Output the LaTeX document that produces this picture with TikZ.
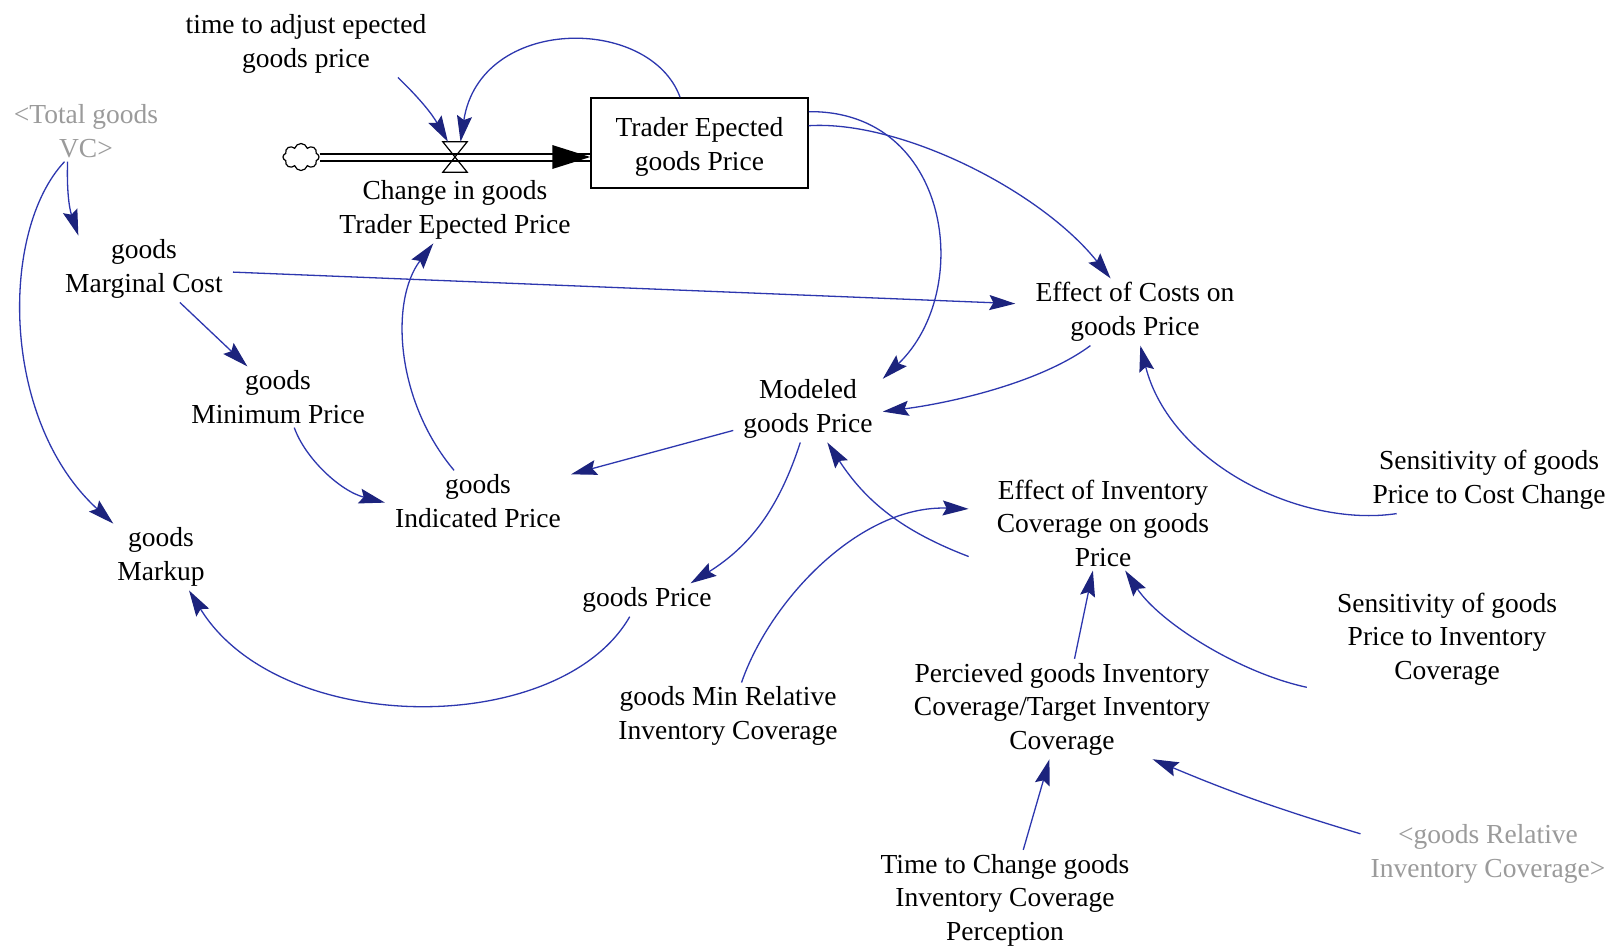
\documentclass[tikz,border=0pt]{standalone}
\usepackage{fontspec}
\setmainfont{Liberation Serif}
\usetikzlibrary{arrows.meta,shapes.symbols}
\definecolor{linkblue}{RGB}{45,55,175}
\definecolor{headnavy}{RGB}{28,35,125}
\definecolor{ghostgray}{RGB}{155,155,155}
\newcommand\lbfont{\fontsize{27.5}{33.5}\selectfont}
\begin{document}
\begin{tikzpicture}[x=1pt,y=-1pt,
  lab/.style={align=center, font=\lbfont, inner xsep=10pt, inner ysep=4pt},
  ghost/.style={lab, text=ghostgray},
  link/.style={draw=linkblue, line width=1.3pt, -{Stealth[length=26pt,width=15pt,inset=4pt,color=headnavy]}},
  stockbox/.style={draw, line width=1.5pt, minimum width=217pt, minimum height=90pt},
  pipe/.style={line width=2pt, double distance=5pt}]
\useasboundingbox (0,0) rectangle (1612,946);
\fill[white] (0,0) rectangle (1612,946);

% nodes
\node[lab] (tadj) at (306,44) {time to adjust epected\\goods price};
\node[ghost] (tvc) at (86,131) {<Total goods\\VC>};
\node[stockbox] (stock) at (699.5,143) {};
\node[lab, inner sep=0pt] (stocktxt) at (699.5,147) {Trader Epected\\goods Price};
\node[lab] (flow) at (455,210) {Change in goods\\Trader Epected Price};
\node[lab] (mc) at (144,269) {goods\\Marginal Cost};
\node[lab] (minp) at (278,397) {goods\\Minimum Price};
\node[lab] (indp) at (478,501) {goods\\Indicated Price};
\node[lab] (markup) at (161,557) {goods\\Markup};
\node[lab, inner xsep=20pt] (eoc) at (1135,312) {Effect of Costs on\\goods Price};
\node[lab] (mgp) at (808,409) {Modeled\\goods Price};
\node[lab] (gp) at (647,600) {goods Price};
\node[lab] (scc) at (1489,480) {Sensitivity of goods\\Price to Cost Change};
\node[lab, inner xsep=28pt] (eic) at (1103,523) {Effect of Inventory\\Coverage on goods\\Price};
\node[lab, inner xsep=30pt] (sic) at (1447,639) {Sensitivity of goods\\Price to Inventory\\Coverage};
\node[lab] (gmr) at (728,716) {goods Min Relative\\Inventory Coverage};
\node[lab] (pgi) at (1062,709) {Percieved goods Inventory\\Coverage/Target Inventory\\Coverage};
\node[ghost] (grc) at (1488,854) {<goods Relative\\Inventory Coverage>};
\node[lab] (ttc) at (1005,900) {Time to Change goods\\Inventory Coverage\\Perception};

% flow pipe
\node[cloud, draw, cloud puffs=8, aspect=1.4, minimum width=36pt, minimum height=27pt, inner sep=0pt, line width=1.2pt] (cloud) at (301,157) {};
\node[minimum width=24pt, minimum height=30pt, inner sep=0pt] (valve) at (455,157) {};
\draw[pipe] (cloud.east) -- (stock.west |- cloud.east);
\fill (stock.west |- cloud.east) -- ++(-38,-12) -- ++(0,24) -- cycle;
\draw[line width=1.2pt] (valve.north west) -- (valve.north east) -- (valve.south west) -- (valve.south east) -- cycle;

% links
\draw[link] (tadj.-20) to[bend left=8] (valve.115);
\draw[link] (stock.113) .. controls (650,15) and (480,15) .. (valve.70);
\draw[link] (stock.9) .. controls (900,120) and (1040,190) .. (eoc.126);
\draw[link] (stock.16) .. controls (950,110) and (975,290) .. (mgp.22);
\draw[link] (mc.-2) -- (eoc.176);
\draw[link] (mc.-43) -- (minp.135);
\draw[link] (tvc.-121) to[bend right=10] (mc.153);
\draw[link] (tvc.-125) .. controls (0,230) and (0,420) .. (markup.145);
\draw[link] (minp.-62) .. controls (305,458) and (340,491) .. (indp.181);
\draw[link] (indp.128) .. controls (395,400) and (390,300) .. (flow.-123);
\draw[link] (mgp.-164) -- (indp.16);
\draw[link] (eoc.-143) .. controls (1040,383) and (950,403) .. (mgp.-2);
\draw[link] (scc.-160) .. controls (1300,528) and (1170,463) .. (eoc.-81);
\draw[link] (mgp.-103) to[bend left=20] (gp.21);
\draw[link] (gp.-136) .. controls (560,738) and (280,738) .. (markup.-50);
\draw[link] (eic.-166) to[bend left=18] (mgp.-60);
\draw[link] (gmr.68) .. controls (770,600) and (860,505) .. (eic.174);
\draw[link] (pgi.76) -- (eic.-102);
\draw[link] (sic.-161) .. controls (1240,673) and (1160,623) .. (eic.-65);
\draw[link] (ttc.70) -- (pgi.-104);
\draw[link] (grc.171) to[bend left=3] (pgi.-29);
\end{tikzpicture}
\end{document}
